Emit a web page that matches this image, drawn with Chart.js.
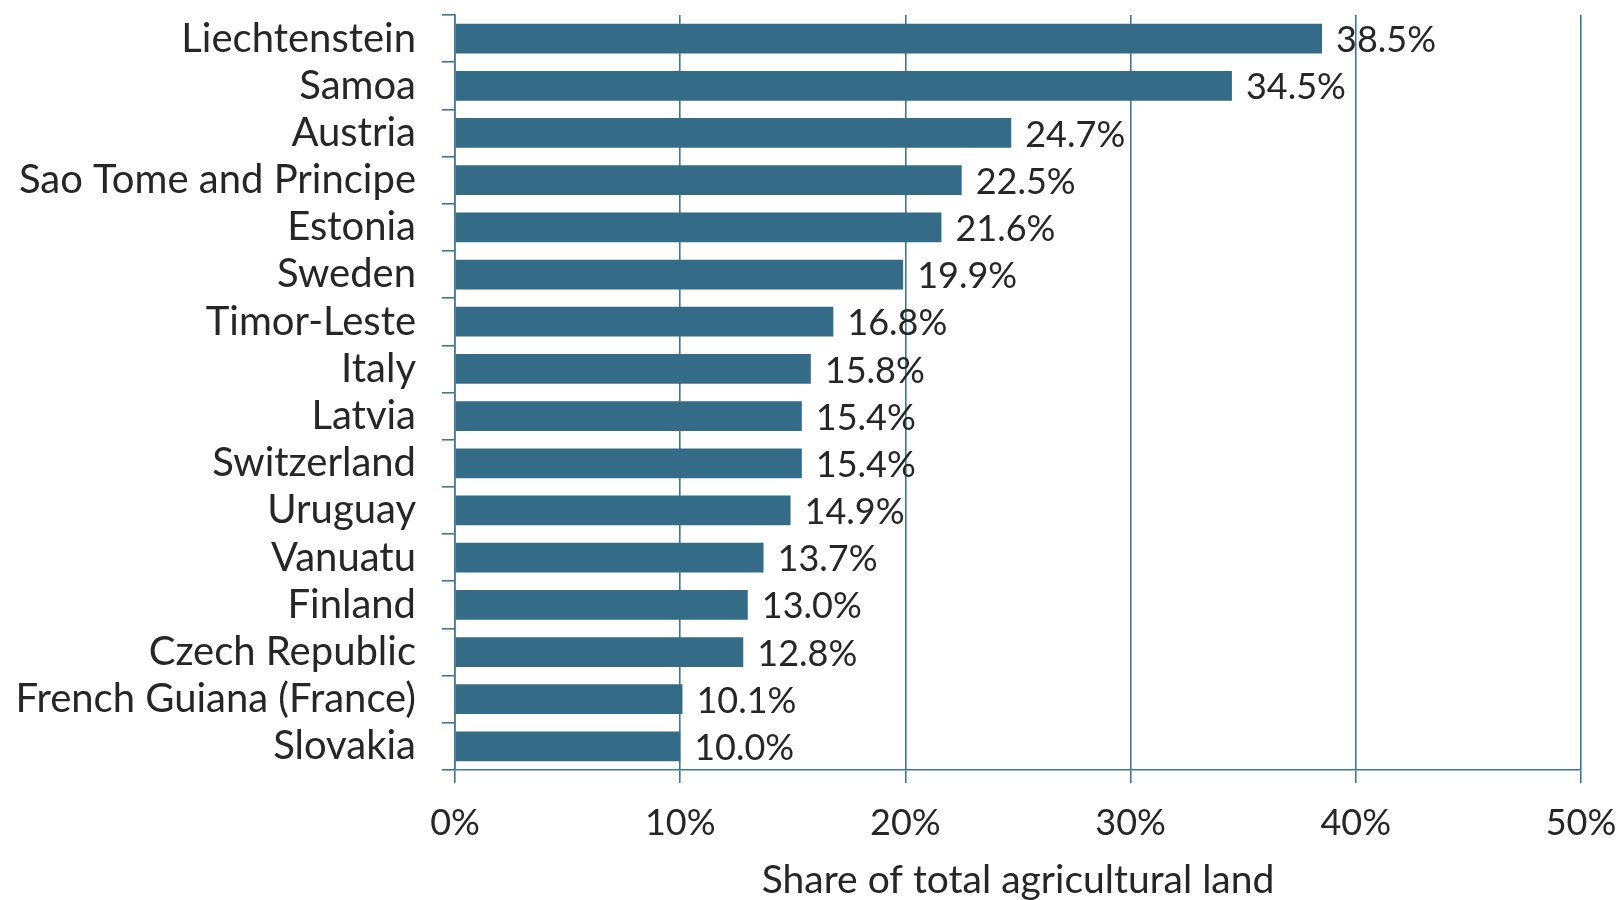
<!DOCTYPE html>
<html>
<head>
<meta charset="utf-8">
<script src="https://cdn.jsdelivr.net/npm/chart.js@4/dist/chart.umd.min.js"></script>
<style>
  html, body { margin: 0; padding: 0; background: #fff; }
  #wrap { width: 1620px; height: 900px; }
</style>
</head>
<body>
<div id="wrap"><canvas id="chart" width="1620" height="900"></canvas></div>
<script>
const countries = [
  'Liechtenstein', 'Samoa', 'Austria', 'Sao Tome and Principe', 'Estonia',
  'Sweden', 'Timor-Leste', 'Italy', 'Latvia', 'Switzerland', 'Uruguay',
  'Vanuatu', 'Finland', 'Czech Republic', 'French Guiana (France)', 'Slovakia'
];
const shares = [38.5, 34.5, 24.7, 22.5, 21.6, 19.9, 16.8, 15.8, 15.4, 15.4, 14.9, 13.7, 13.0, 12.8, 10.1, 10.0];
const xTicks = [0, 10, 20, 30, 40, 50];
const xTitle = 'Share of total agricultural land';

const teal = '#346c88';
const lineCol = '#3f7893';
const textCol = '#262626';
const fontFamily = 'Lato, "Open Sans", sans-serif';

// draws "38.5%" etc to the right of each bar
const valueLabels = {
  id: 'valueLabels',
  afterDatasetsDraw(chart) {
    const ctx = chart.ctx;
    const meta = chart.getDatasetMeta(0);
    ctx.save();
    ctx.font = '36px ' + fontFamily;
    ctx.fillStyle = textCol;
    ctx.textAlign = 'left';
    ctx.textBaseline = 'middle';
    meta.data.forEach((bar, i) => {
      ctx.fillText(shares[i].toFixed(1) + '%', bar.x + 14, bar.y + 2);
    });
    ctx.restore();
  }
};

new Chart(document.getElementById('chart').getContext('2d'), {
  type: 'bar',
  data: {
    labels: countries,
    datasets: [{
      data: shares,
      backgroundColor: teal,
      borderWidth: 0,
      categoryPercentage: 1,
      barPercentage: 0.63
    }]
  },
  options: {
    indexAxis: 'y',
    responsive: false,
    animation: false,
    layout: { padding: { top: 15, right: 39, bottom: 0, left: 0 } },
    plugins: {
      legend: { display: false },
      tooltip: { enabled: false }
    },
    scales: {
      x: {
        min: 0,
        max: 50,
        afterBuildTicks: axis => { axis.ticks = xTicks.map(v => ({ value: v })); },
        afterFit: axis => {
          axis.height = 130;
          axis.paddingLeft = 0;
          axis.paddingRight = 0;
        },
        grid: {
          color: lineCol,
          lineWidth: 1.6,
          tickLength: 13,
          drawTicks: true
        },
        border: { display: true, color: lineCol, width: 1.6 },
        ticks: {
          padding: 19,
          color: textCol,
          font: { family: fontFamily, size: 36 },
          callback: v => v + '%'
        },
        title: {
          display: true,
          text: xTitle,
          color: textCol,
          font: { family: fontFamily, size: 39, lineHeight: 1.0 },
          padding: { top: 0, bottom: 0 }
        }
      },
      y: {
        afterFit: axis => {
          axis.width = 455;
          axis.paddingTop = 0;
          axis.paddingBottom = 0;
        },
        grid: {
          drawOnChartArea: false,
          drawTicks: true,
          tickLength: 13,
          color: lineCol,
          lineWidth: 1.6
        },
        border: { display: true, color: lineCol, width: 1.6 },
        ticks: {
          autoSkip: false,
          padding: 26,
          color: textCol,
          font: { family: fontFamily, size: 40 }
        }
      }
    }
  },
  plugins: [valueLabels]
});
</script>
</body>
</html>
